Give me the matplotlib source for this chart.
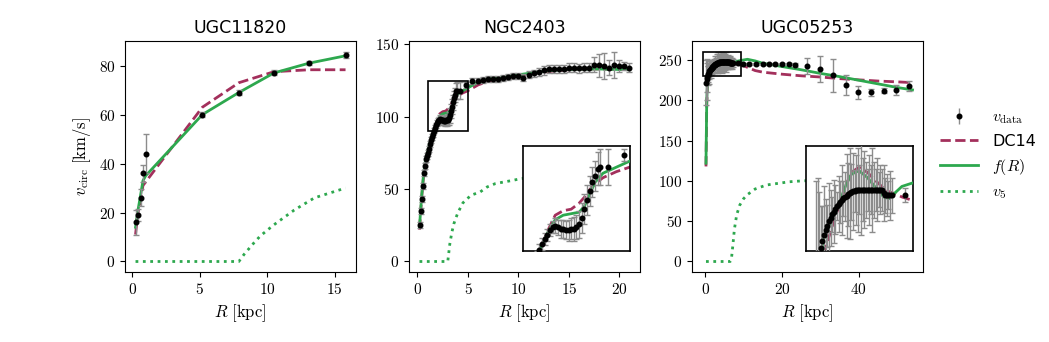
import numpy as np
import matplotlib.pyplot as plt
from matplotlib.patches import Rectangle
from matplotlib.ticker import FuncFormatter, MultipleLocator

plt.rcParams['mathtext.fontset'] = 'cm'
plt.rcParams['font.family'] = ['DejaVu Sans']

c_dc14 = '#a3305c'
c_fr = '#2da84e'
c_err = '#8c8c8c'

# UGC11820
r1 = [0.25, 0.4, 0.62, 0.8, 1.0, 5.2, 7.9, 10.5, 13.1, 15.8]
v1 = [16, 19, 26, 36, 44, 60, 69, 77, 81, 84.5]
e1 = [5, 2.5, 3.5, 3.5, 8, 1, 1, 1, 0.8, 1.2]
dc1 = [11, 19, 25, 31, 32.5, 63, 73, 77.5, 78.3, 78.3]
fr1 = [14, 20, 27, 33, 35, 60, 69, 77, 81, 84]
r1_v5 = [0.25, 2, 4, 6, 7.9, 8.3, 9.0, 9.5, 10.5, 12.0, 13.5, 15.8]
v5_1 = [0, 0, 0, 0, 0, 3, 7.5, 10.5, 15, 21, 26, 30]

# NGC2403
r2 = [0.2, 0.3, 0.4, 0.5, 0.6, 0.7, 0.8, 0.9, 1.0, 1.1, 1.2, 1.3, 1.4, 1.5,
      1.6, 1.7, 1.8, 1.9, 2.0, 2.1, 2.2, 2.3, 2.4, 2.5, 2.6, 2.7, 2.8, 2.9,
      3.0, 3.1, 3.2, 3.3, 3.4, 3.5, 3.6, 3.7, 3.8, 3.9, 4.2, 4.8, 5.4, 6.0,
      6.5, 7.0, 7.5, 8.0, 8.5, 9.0, 9.5, 10.0, 10.5, 11.0, 11.5, 12.0, 12.5,
      13.0, 13.5, 14.0, 14.5, 15.0, 15.5, 16.0, 16.5, 17.0, 17.5, 18.0, 18.5,
      19.0, 19.5, 20.0, 20.5, 21.0]
v2 = [25, 35, 43, 52, 61, 66, 71, 73, 75, 78, 81, 84, 86, 88,
      90.5, 92.5, 94, 95.5, 97, 98, 98.5, 98, 97.5, 97.5, 97, 97, 97.5, 97.5,
      98, 99, 101, 104, 107, 110, 113, 115, 117.5, 118, 118, 122, 124.5, 125,
      125.5, 126, 126, 126, 127, 127.5, 128, 128, 127, 129, 130, 131, 132,
      133, 133, 133, 133, 134, 134, 133.5, 134, 134, 136, 135.5, 135,
      134, 136, 135, 135, 134]
e2 = [2, 2, 2, 2, 2, 2, 2, 2, 2, 2, 2, 2, 2, 2,
      2, 2, 2, 2, 2, 2, 2.5, 2.5, 3, 3, 3, 3.5, 3.5, 4,
      4, 4.5, 5, 5, 5, 5, 5, 5, 5.5, 6, 6, 2, 2, 2,
      2, 2, 2, 2, 2, 2, 2, 2, 2.5, 2.5, 2.5, 3, 3,
      3, 3, 3, 3, 3, 3, 3, 3, 3, 5, 8, 9,
      5, 9, 4, 3, 3]
r2_mod = [0.2, 0.4, 0.6, 0.8, 1.0, 1.3, 1.6, 1.9, 2.2, 2.5, 2.8, 3.1, 3.3, 3.5,
          3.7, 4.0, 4.5, 5.0, 6, 7, 8, 10, 12, 14, 16, 18, 21]
fr2 = [24, 44, 60, 70, 76, 84, 90, 96, 100.5, 102, 102.5, 103, 105, 109,
       113, 116, 118, 120, 124, 126, 127, 129, 131, 132.5, 133, 133, 132.5]
dc2 = [22, 43, 59, 69.5, 76, 84, 90, 96.5, 102, 103.5, 104, 106, 108, 110.5,
       112.5, 114.5, 116.5, 118, 122, 124.5, 126, 128, 130.5, 132, 133, 133, 132.5]
r2_v5 = [0.2, 1, 2, 3.0, 3.2, 3.4, 3.6, 3.8, 4.0, 4.5, 5.3, 6.2, 6.9, 7.7,
         8.6, 9.4, 10.2, 12, 14, 16, 18, 21]
v5_2 = [0, 0, 0, 0, 12, 20, 26, 30, 33.7, 40.5, 45.8, 48, 51.5, 53.8,
        55, 56, 57.2, 58.5, 59.5, 60.5, 61, 62]

# UGC05253
r3 = [0.2, 0.35, 0.5, 0.65, 0.8, 0.95, 1.1, 1.25, 1.4, 1.55, 1.7, 1.85, 2.0,
      2.15, 2.3, 2.45, 2.6, 2.75, 2.9, 3.05, 3.2, 3.35, 3.5, 3.65, 3.8, 3.95,
      4.1, 4.25, 4.4, 4.55, 4.7, 4.85, 5.0, 5.15, 5.3, 5.45, 5.6, 5.75, 5.9,
      6.05, 6.2, 6.35, 6.5, 6.65, 6.8, 6.95, 7.1, 7.25, 8.5, 9.8, 11.5, 13.3,
      15.0, 16.7, 18.3, 20.0, 21.7, 23.3, 26.6, 29.9, 33.2, 36.6, 39.9, 43.2,
      46.5, 49.7, 53.0]
v3 = [222, 226, 229, 231, 233, 234.5, 236, 237.3, 238.5, 239.5, 240.5, 241.3,
      242, 242.8, 243.5, 244.1, 244.6, 245.1, 245.5, 245.9, 246.3, 246.6, 246.9,
      247.1, 247.3, 247.4, 247.5, 247.5, 247.5, 247.5, 247.5, 247.5, 247.5,
      247.5, 247.5, 247.5, 247.5, 247.5, 247.5, 247.5, 247.5, 247.5, 246.5,
      246, 246, 246, 246, 246, 246, 245, 245, 245, 245, 245, 245, 245, 245,
      244, 243, 239, 231, 219, 210, 210, 212, 213, 218]
e3 = [28, 25, 18, 12, 10, 14, 9, 6, 11, 8, 5, 9, 7,
      4, 8, 6, 10, 5, 7, 12, 9, 13, 8, 11, 6, 10,
      12, 7, 13, 9, 11, 8, 6, 10, 7, 12, 8, 6, 9,
      5, 7, 6, 8, 5, 6, 4, 7, 5, 2, 1.5, 1.5, 1.5,
      1.5, 1.5, 1.5, 1.5, 1.5, 3, 10, 16, 20, 12, 8, 4,
      3, 6, 6]
r3_mod = [0.2, 0.4, 0.6, 0.8, 1.0, 1.5, 2.0, 2.5, 3.0, 3.5, 4.2, 5.0, 5.8,
          6.5, 7.0, 7.5, 8.2, 9.2, 11, 13, 15, 17, 20, 25, 30, 35, 40, 45, 50, 54]
fr3 = [122, 200, 225, 232, 234.5, 238, 241, 245, 249, 252, 253, 251, 248,
       245.5, 245, 246.5, 248.5, 249.5, 251, 249, 246, 244.5, 242, 238, 233.5,
       229.5, 225, 220.5, 216, 213]
dc3 = [118, 195, 220, 228, 230.5, 235, 240, 244, 249, 252.5, 254, 252.5, 250,
       248, 247, 246.5, 245.5, 244.5, 241, 237, 235, 234, 232.5, 230.5, 229,
       227, 225.5, 224, 223, 222]
r3_v5 = [0.2, 2, 4, 6.5, 6.8, 7.2, 7.6, 8.2, 9.0, 10.0, 11.0, 13.0, 16.0,
         19.0, 22.0, 25.0, 30.0, 40.0, 54.0]
v5_3 = [0, 0, 0, 0, 2, 20, 40, 58, 70, 78, 83, 90, 95,
        97, 99, 100, 101, 102, 102]

gals = ['UGC11820', 'NGC2403', 'UGC05253']
data = [(r1, v1, e1, r1, dc1, fr1, r1_v5, v5_1),
        (r2, v2, e2, r2_mod, dc2, fr2, r2_v5, v5_2),
        (r3, v3, e3, r3_mod, dc3, fr3, r3_v5, v5_3)]
zooms = [None, ((1, 5), (90, 125)), ((-0.7, 9.2), (230, 260))]
ysteps = [20, 50, 50]
lefts = [0.1192, 0.3899, 0.6597]

mfmt = FuncFormatter(lambda x, p: f'${x:g}$')


def draw(ax, d, lw=2.0, ms=3.3):
    r, v, e, rm, dc, fr, rv, v5 = d
    ax.plot(rv, v5, ':', color=c_fr, lw=lw, zorder=1)
    ax.plot(rm, dc, '--', color=c_dc14, lw=lw, zorder=2)
    ax.plot(rm, fr, '-', color=c_fr, lw=lw, zorder=3)
    ax.errorbar(r, v, yerr=e, fmt='o', color='k', ms=ms, ecolor=c_err,
                elinewidth=1, capsize=2.5, zorder=4)


fig = plt.figure(figsize=(10.49, 3.42), dpi=100)
for i in range(3):
    ax = fig.add_axes([lefts[i], 0.2047, 0.2202, 0.675])
    draw(ax, data[i])
    ax.set_title(gals[i], fontsize=12.5)
    ax.set_xlabel(r'$R\ [\mathrm{kpc}]$', fontsize=12)
    ax.yaxis.set_major_locator(MultipleLocator(ysteps[i]))
    ax.xaxis.set_major_formatter(mfmt)
    ax.yaxis.set_major_formatter(mfmt)
    ax.tick_params(labelsize=11)
    if i == 0:
        ax.set_ylabel(r'$v_{\rm circ}\ [\mathrm{km/s}]$', fontsize=12)
    if zooms[i] is not None:
        (x0, x1), (y0, y1) = zooms[i]
        axi = ax.inset_axes([0.495, 0.09, 0.46, 0.455])
        draw(axi, data[i])
        axi.set_xlim(x0, x1)
        axi.set_ylim(y0, y1)
        axi.set_xticks([])
        axi.set_yticks([])
        for s in axi.spines.values():
            s.set_linewidth(1.2)
        ax.add_patch(Rectangle((x0, y0), x1 - x0, y1 - y0, fill=False,
                               ec='k', lw=1.2, zorder=5))

h = [plt.Line2D([], [], ls=':', color=c_fr, lw=2),
     plt.Line2D([], [], ls='--', color=c_dc14, lw=2),
     plt.Line2D([], [], ls='-', color=c_fr, lw=2)]
eb = ax.errorbar([], [], yerr=[], fmt='o', color='k', ms=3.3, ecolor=c_err,
                 elinewidth=1, capsize=2.5)
fig.legend([eb, h[1], h[2], h[0]],
           [r'$v_{\rm data}$', 'DC14', r'$f(R)$', r'$v_5$'],
           loc='center left', bbox_to_anchor=(0.882, 0.546), frameon=False,
           prop={'size': 11.5}, handlelength=2.4, handletextpad=0.9,
           labelspacing=0.48)

fig.savefig('out.png', dpi=100)
